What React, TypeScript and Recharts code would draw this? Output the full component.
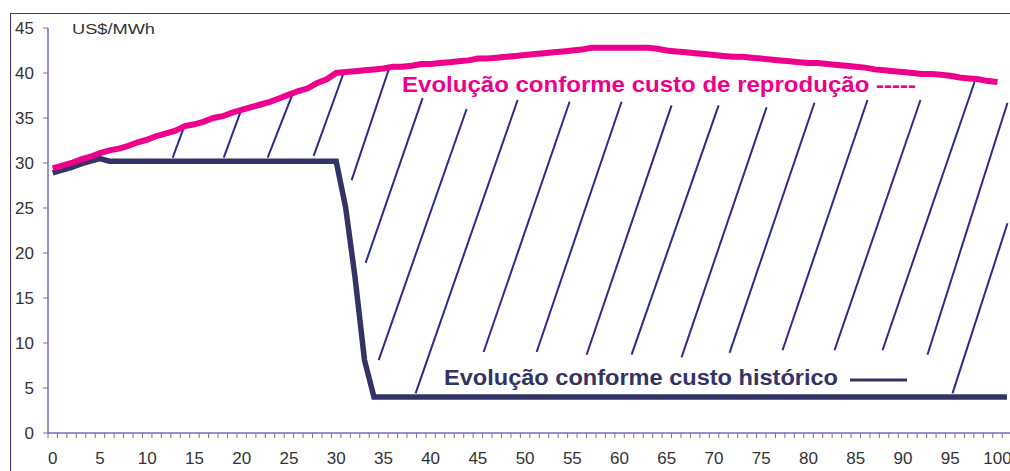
import React from 'react';
import { LineChart, Line, XAxis, YAxis, ReferenceLine } from 'recharts';

// ── 데이터 ──────────────────────────────────────────────────────────
const anos = [
  0, 1, 2, 3, 4, 5, 6, 7, 8, 9, 10, 11, 12, 13, 14, 15, 16, 17, 18, 19, 20,
  21, 22, 23, 24, 25, 26, 27, 28, 29, 30, 31, 32, 33, 34, 35, 36, 37, 38, 39, 40,
  41, 42, 43, 44, 45, 46, 47, 48, 49, 50, 51, 52, 53, 54, 55, 56, 57, 58, 59, 60,
  61, 62, 63, 64, 65, 66, 67, 68, 69, 70, 71, 72, 73, 74, 75, 76, 77, 78, 79, 80,
  81, 82, 83, 84, 85, 86, 87, 88, 89, 90, 91, 92, 93, 94, 95, 96, 97, 98, 99, 100, 101,
];

// Evolução conforme custo de reprodução (US$/MWh)
const custoReproducao = [
  29.4, 29.7, 30.0, 30.4, 30.7, 31.1, 31.4, 31.6, 31.9, 32.3, 32.6,
  33.0, 33.3, 33.6, 34.1, 34.3, 34.6, 35.0, 35.2, 35.6, 35.9,
  36.2, 36.5, 36.8, 37.2, 37.6, 38.0, 38.3, 38.9, 39.3, 40.0,
  40.1, 40.2, 40.3, 40.4, 40.5, 40.7, 40.7, 40.8, 41.0, 41.0,
  41.1, 41.2, 41.3, 41.4, 41.6, 41.6, 41.7, 41.8, 41.9, 42.0,
  42.1, 42.2, 42.3, 42.4, 42.5, 42.6, 42.8, 42.8, 42.8, 42.8,
  42.8, 42.8, 42.8, 42.7, 42.5, 42.4, 42.3, 42.2, 42.1, 42.0,
  41.9, 41.8, 41.8, 41.7, 41.6, 41.5, 41.4, 41.3, 41.2, 41.1,
  41.1, 41.0, 40.9, 40.8, 40.7, 40.6, 40.4, 40.3, 40.2, 40.1,
  40.0, 39.9, 39.9, 39.8, 39.7, 39.5, 39.4, 39.3, 39.1, 39.0, null,
];

// Evolução conforme custo histórico (US$/MWh)
const custoHistorico = [
  28.9, 29.2, 29.5, 29.9, 30.2, 30.5, 30.2, 30.2, 30.2, 30.2, 30.2,
  30.2, 30.2, 30.2, 30.2, 30.2, 30.2, 30.2, 30.2, 30.2, 30.2,
  30.2, 30.2, 30.2, 30.2, 30.2, 30.2, 30.2, 30.2, 30.2, 30.2,
  25.1, 17.3, 8.1, 4.0, 4.0, 4.0, 4.0, 4.0, 4.0, 4.0,
  4.0, 4.0, 4.0, 4.0, 4.0, 4.0, 4.0, 4.0, 4.0, 4.0,
  4.0, 4.0, 4.0, 4.0, 4.0, 4.0, 4.0, 4.0, 4.0, 4.0,
  4.0, 4.0, 4.0, 4.0, 4.0, 4.0, 4.0, 4.0, 4.0, 4.0,
  4.0, 4.0, 4.0, 4.0, 4.0, 4.0, 4.0, 4.0, 4.0, 4.0,
  4.0, 4.0, 4.0, 4.0, 4.0, 4.0, 4.0, 4.0, 4.0, 4.0,
  4.0, 4.0, 4.0, 4.0, 4.0, 4.0, 4.0, 4.0, 4.0, 4.0, 4.0,
];

const rotulosX = [0, 5, 10, 15, 20, 25, 30, 35, 40, 45, 50, 55, 60, 65, 70, 75, 80, 85, 90, 95, 100];
const rotulosY = [0, 5, 10, 15, 20, 25, 30, 35, 40, 45];

// hatch strokes between the two curves: [x1, y1, x2, y2] in data units
const hachuras = [
  [13.97, 34.2, 12.7, 30.6],
  [19.89, 35.7, 18.1, 30.6],
  [25.4, 37.7, 22.75, 30.6],
  [30.79, 40.0, 27.62, 30.8],
  [35.66, 40.7, 31.64, 28.1],
  [39.15, 37.2, 33.12, 18.9],
  [43.81, 36.0, 34.5, 8.1],
  [49.21, 37.0, 38.41, 4.4],
  [54.71, 36.8, 45.61, 9.0],
  [60.21, 36.8, 51.22, 9.0],
  [65.5, 36.4, 56.51, 8.7],
  [70.48, 36.4, 61.27, 8.7],
  [75.56, 36.2, 66.56, 8.4],
  [80.63, 36.7, 71.64, 8.9],
  [86.24, 37.0, 77.25, 9.2],
  [91.85, 37.0, 82.75, 9.2],
  [97.57, 39.0, 87.83, 9.2],
  [101.06, 36.7, 92.59, 8.7],
  [101.06, 23.3, 95.24, 4.4],
];

const dados = anos.map((ano, i) => ({
  ano,
  reproducao: custoReproducao[i],
  historico: custoHistorico[i],
}));

// category boundaries (Excel puts tick marks between categories)
const marcasX = Array.from({ length: 106 }, (_, i) => i - 0.5);

const ROSA = '#ec008c';
const AZUL = '#333366';
const EIXO = '#7070bb';
const TEXTO = '#333333';
const FONTE = "'Liberation Sans', Arial, Helvetica, sans-serif";
const MEIO_PASSO = 4.72;

const XTick = (props: any) => {
  const { x, y, payload } = props;
  const v = payload.value + 0.5;
  if (!rotulosX.includes(v)) return <g />;
  return (
    <text x={x + MEIO_PASSO} y={y} dy="0.71em" textAnchor="middle" fill={TEXTO} fontSize={17} fontFamily={FONTE}>
      {v}
    </text>
  );
};

export default function App() {
  return (
    <div
      style={{
        position: 'fixed',
        left: 0,
        top: 0,
        width: 1010,
        height: 471,
        overflow: 'hidden',
        background: '#fff',
      }}
    >
      {/* moldura externa */}
      <div
        style={{
          position: 'absolute',
          left: 10,
          top: 13,
          width: 1100,
          height: 600,
          border: '1px solid #333399',
        }}
      />

      <div style={{ position: 'absolute', left: 0, top: 0 }}>
        <LineChart width={1050} height={471} data={dados} margin={{ top: 28, right: 10, left: 0, bottom: 0 }}>
          <XAxis
            dataKey="ano"
            type="number"
            domain={[-0.5, 104.5]}
            allowDataOverflow
            ticks={marcasX}
            interval={0}
            tick={<XTick />}
            tickSize={5}
            tickMargin={14}
            height={38}
            axisLine={{ stroke: EIXO, strokeWidth: 1.5 }}
            tickLine={{ stroke: EIXO }}
          />
          <YAxis
            type="number"
            domain={[0, 45]}
            ticks={rotulosY}
            interval={0}
            width={48}
            tickSize={5}
            tickMargin={9}
            tick={{ fill: TEXTO, fontSize: 17, fontFamily: FONTE }}
            axisLine={{ stroke: EIXO, strokeWidth: 1.5 }}
            tickLine={{ stroke: EIXO }}
          />

          {hachuras.map(([x1, y1, x2, y2], i) => (
            <ReferenceLine
              key={i}
              segment={[
                { x: x1, y: y1 },
                { x: x2, y: y2 },
              ]}
              stroke="#2b2b8f"
              strokeWidth={2}
              ifOverflow="visible"
            />
          ))}

          <Line
            type="linear"
            dataKey="historico"
            stroke={AZUL}
            strokeWidth={5.5}
            dot={false}
            activeDot={false}
            isAnimationActive={false}
          />
          <Line
            type="linear"
            dataKey="reproducao"
            stroke={ROSA}
            strokeWidth={6}
            dot={false}
            activeDot={false}
            connectNulls={false}
            isAnimationActive={false}
          />
        </LineChart>
      </div>

      {/* rótulos */}
      <svg width={1010} height={471} style={{ position: 'absolute', left: 0, top: 0, pointerEvents: 'none' }}>
        <text x={72} y={34} fontSize={15.5} fontFamily={FONTE} fill={TEXTO} textLength={83} lengthAdjust="spacingAndGlyphs">
          US$/MWh
        </text>
        <text
          x={402}
          y={92}
          fontSize={22}
          fontWeight="bold"
          fontFamily={FONTE}
          fill={ROSA}
          textLength={514}
          lengthAdjust="spacingAndGlyphs"
        >
          Evolução conforme custo de reprodução -----
        </text>
        <text
          x={444}
          y={385}
          fontSize={22}
          fontWeight="bold"
          fontFamily={FONTE}
          fill={AZUL}
          textLength={394}
          lengthAdjust="spacingAndGlyphs"
        >
          Evolução conforme custo histórico
        </text>
        <line x1={850} x2={907} y1={380} y2={380} stroke={AZUL} strokeWidth={3} />
      </svg>
    </div>
  );
}
